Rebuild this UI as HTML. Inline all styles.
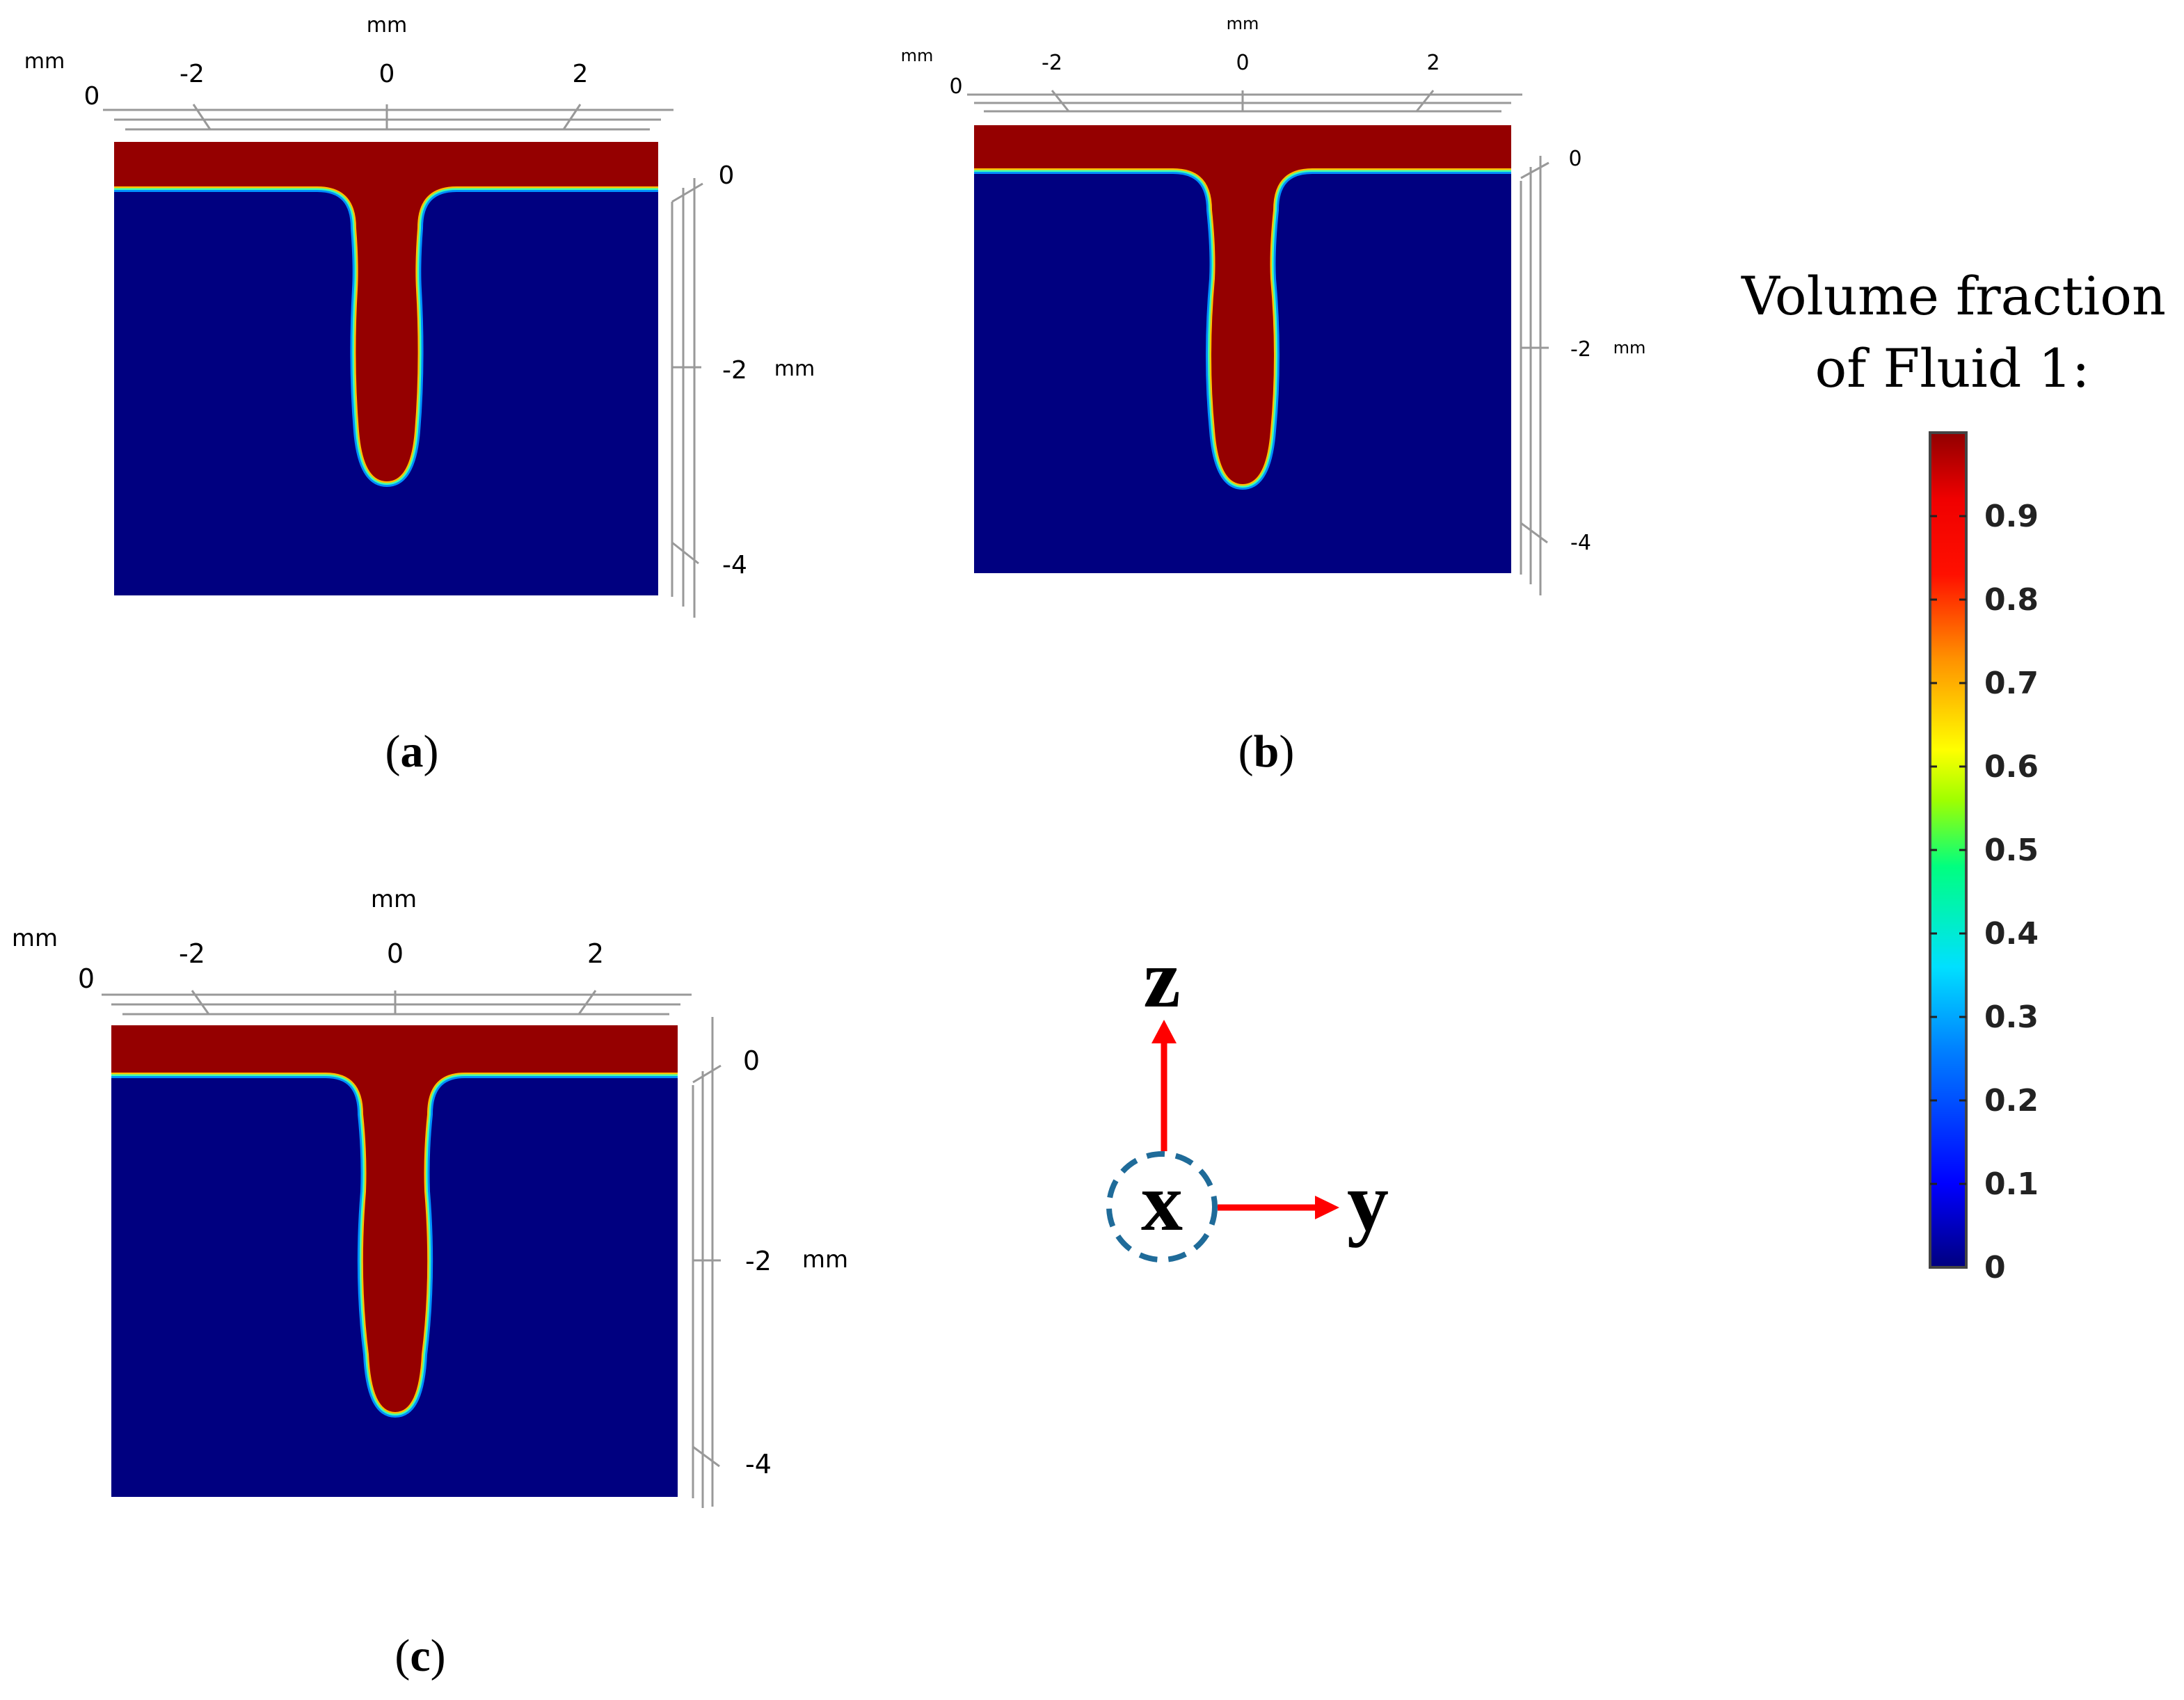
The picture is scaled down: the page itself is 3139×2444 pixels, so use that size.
<!DOCTYPE html>
<html><head><meta charset="utf-8"><style>html,body{margin:0;padding:0;background:#fff}svg{display:block}</style></head>
<body>
<svg width="3139" height="2444" viewBox="0 0 3139 2444" xmlns="http://www.w3.org/2000/svg">
<defs>
<linearGradient id="cb" gradientUnits="userSpaceOnUse" x1="0" y1="1822" x2="0" y2="622">
<stop offset="0" stop-color="#00007f"/><stop offset="0.1" stop-color="#0000ff"/><stop offset="0.26" stop-color="#0080ff"/><stop offset="0.36" stop-color="#00e0ff"/><stop offset="0.48" stop-color="#00ff80"/><stop offset="0.56" stop-color="#a0ff00"/><stop offset="0.62" stop-color="#ffff00"/><stop offset="0.73" stop-color="#ff9000"/><stop offset="0.83" stop-color="#ff1000"/><stop offset="0.92" stop-color="#f00000"/><stop offset="1" stop-color="#900000"/>
</linearGradient>
<path id="fa" d="M164,204 H946 V268 H656 Q600,268 600,328 Q596,380 598,416 Q604,522 596,620 Q590,692 556,692 Q522,692 516,620 Q508,522 514,416 Q516,380 512,328 Q512,268 456,268 H164 Z"/>
<path id="fb" d="M1400,180 H2172 V242 H1886 Q1830,242 1830,302 Q1824,360 1826,401 Q1836,514 1826,619 Q1820,696 1786,696 Q1752,696 1746,619 Q1736,514 1746,401 Q1748,360 1742,302 Q1742,242 1686,242 H1400 Z"/>
<path id="fc" d="M160,1474 H974 V1542 H668 Q614,1542 614,1602 Q608,1660 610,1713 Q620,1835 606,1947 Q602,2030 568,2030 Q534,2030 530,1947 Q516,1835 526,1713 Q528,1660 522,1602 Q522,1542 468,1542 H160 Z"/>
</defs>
<g font-family="DejaVu Sans, Liberation Sans, sans-serif" fill="#000">
<!-- Panel a -->
<rect x="164" y="204" width="782" height="652" fill="#000080"/>
<use href="#fa" fill="#950000" stroke="#0090ff" stroke-width="16"/>
<use href="#fa" fill="#950000" stroke="#40ffb0" stroke-width="10"/>
<use href="#fa" fill="#950000" stroke="#ffc000" stroke-width="5"/>
<use href="#fa" fill="#950000"/>
<rect x="150" y="190" width="810" height="14" fill="#fff"/>
<rect x="150" y="190" width="14" height="680" fill="#fff"/><rect x="946" y="190" width="14" height="680" fill="#fff"/><rect x="150" y="856" width="810" height="10" fill="#fff"/>
<g stroke="#999" stroke-width="3" fill="none">
<line x1="148" y1="158" x2="968" y2="158"/><line x1="164" y1="172" x2="950" y2="172"/><line x1="180" y1="186" x2="934" y2="186"/>
<line x1="278" y1="150" x2="302" y2="186"/><line x1="556" y1="150" x2="556" y2="186"/><line x1="834" y1="150" x2="810" y2="186"/>
<line x1="966" y1="290" x2="966" y2="858"/><line x1="982" y1="270" x2="982" y2="872"/><line x1="998" y1="256" x2="998" y2="888"/>
<line x1="966" y1="290" x2="1010" y2="264"/><line x1="966" y1="528" x2="1008" y2="528"/><line x1="966" y1="780" x2="1004" y2="810"/>
</g>
<text x="556" y="46" font-size="30" text-anchor="middle">mm</text>
<text x="64" y="98" font-size="30" text-anchor="middle">mm</text>
<text x="132" y="150" font-size="36" text-anchor="middle">0</text>
<text x="276" y="118" font-size="36" text-anchor="middle">-2</text>
<text x="556" y="118" font-size="36" text-anchor="middle">0</text>
<text x="834" y="118" font-size="36" text-anchor="middle">2</text>
<text x="1044" y="264" font-size="36" text-anchor="middle">0</text>
<text x="1056" y="544" font-size="36" text-anchor="middle">-2</text>
<text x="1142" y="540" font-size="30" text-anchor="middle">mm</text>
<text x="1056" y="824" font-size="36" text-anchor="middle">-4</text>
<text x="592" y="1102" font-size="66" text-anchor="middle" font-family="Liberation Serif, serif">(<tspan font-weight="bold">a</tspan>)</text>

<!-- Panel b -->
<rect x="1400" y="180" width="772" height="644" fill="#000080"/>
<use href="#fb" fill="#950000" stroke="#0090ff" stroke-width="16"/>
<use href="#fb" fill="#950000" stroke="#40ffb0" stroke-width="10"/>
<use href="#fb" fill="#950000" stroke="#ffc000" stroke-width="5"/>
<use href="#fb" fill="#950000"/>
<rect x="1386" y="166" width="800" height="14" fill="#fff"/>
<rect x="1386" y="166" width="14" height="670" fill="#fff"/><rect x="2172" y="166" width="12" height="670" fill="#fff"/><rect x="1386" y="824" width="798" height="10" fill="#fff"/>
<g stroke="#999" stroke-width="3" fill="none">
<line x1="1390" y1="136" x2="2188" y2="136"/><line x1="1400" y1="148" x2="2172" y2="148"/><line x1="1414" y1="160" x2="2158" y2="160"/>
<line x1="1512" y1="130" x2="1536" y2="160"/><line x1="1786" y1="130" x2="1786" y2="160"/><line x1="2060" y1="130" x2="2036" y2="160"/>
<line x1="2186" y1="260" x2="2186" y2="826"/><line x1="2200" y1="240" x2="2200" y2="840"/><line x1="2214" y1="224" x2="2214" y2="856"/>
<line x1="2186" y1="256" x2="2226" y2="234"/><line x1="2186" y1="500" x2="2226" y2="500"/><line x1="2186" y1="752" x2="2224" y2="780"/>
</g>
<text x="1786" y="42" font-size="24" text-anchor="middle">mm</text>
<text x="1318" y="88" font-size="24" text-anchor="middle">mm</text>
<text x="1374" y="134" font-size="30" text-anchor="middle">0</text>
<text x="1512" y="100" font-size="30" text-anchor="middle">-2</text>
<text x="1786" y="100" font-size="30" text-anchor="middle">0</text>
<text x="2060" y="100" font-size="30" text-anchor="middle">2</text>
<text x="2264" y="238" font-size="30" text-anchor="middle">0</text>
<text x="2272" y="512" font-size="30" text-anchor="middle">-2</text>
<text x="2342" y="508" font-size="24" text-anchor="middle">mm</text>
<text x="2272" y="790" font-size="30" text-anchor="middle">-4</text>
<text x="1820" y="1102" font-size="66" text-anchor="middle" font-family="Liberation Serif, serif">(<tspan font-weight="bold">b</tspan>)</text>

<!-- Panel c -->
<rect x="160" y="1474" width="814" height="678" fill="#000080"/>
<use href="#fc" fill="#950000" stroke="#0090ff" stroke-width="16"/>
<use href="#fc" fill="#950000" stroke="#40ffb0" stroke-width="10"/>
<use href="#fc" fill="#950000" stroke="#ffc000" stroke-width="5"/>
<use href="#fc" fill="#950000"/>
<rect x="146" y="1462" width="842" height="12" fill="#fff"/>
<rect x="146" y="1462" width="14" height="700" fill="#fff"/><rect x="974" y="1462" width="12" height="700" fill="#fff"/><rect x="146" y="2152" width="840" height="10" fill="#fff"/>
<g stroke="#999" stroke-width="3" fill="none">
<line x1="146" y1="1430" x2="994" y2="1430"/><line x1="160" y1="1444" x2="978" y2="1444"/><line x1="176" y1="1458" x2="962" y2="1458"/>
<line x1="276" y1="1424" x2="300" y2="1458"/><line x1="568" y1="1424" x2="568" y2="1458"/><line x1="856" y1="1424" x2="832" y2="1458"/>
<line x1="996" y1="1560" x2="996" y2="2154"/><line x1="1010" y1="1540" x2="1010" y2="2168"/><line x1="1024" y1="1462" x2="1024" y2="2166"/>
<line x1="996" y1="1556" x2="1036" y2="1532"/><line x1="996" y1="1812" x2="1036" y2="1812"/><line x1="996" y1="2080" x2="1034" y2="2108"/>
</g>
<text x="566" y="1304" font-size="34" text-anchor="middle">mm</text>
<text x="50" y="1360" font-size="34" text-anchor="middle">mm</text>
<text x="124" y="1420" font-size="38" text-anchor="middle">0</text>
<text x="276" y="1384" font-size="38" text-anchor="middle">-2</text>
<text x="568" y="1384" font-size="38" text-anchor="middle">0</text>
<text x="856" y="1384" font-size="38" text-anchor="middle">2</text>
<text x="1080" y="1538" font-size="38" text-anchor="middle">0</text>
<text x="1090" y="1826" font-size="38" text-anchor="middle">-2</text>
<text x="1186" y="1822" font-size="34" text-anchor="middle">mm</text>
<text x="1090" y="2118" font-size="38" text-anchor="middle">-4</text>
<text x="604" y="2402" font-size="66" text-anchor="middle" font-family="Liberation Serif, serif">(<tspan font-weight="bold">c</tspan>)</text>

<!-- Axes icon -->
<circle cx="1670" cy="1735" r="76" fill="none" stroke="#1f6b99" stroke-width="8" stroke-dasharray="26 16"/>
<line x1="1673" y1="1655" x2="1673" y2="1496" stroke="#ff0000" stroke-width="9"/>
<polygon points="1673,1466 1655,1500 1691,1500" fill="#ff0000"/>
<line x1="1750" y1="1736" x2="1895" y2="1736" stroke="#ff0000" stroke-width="9"/>
<polygon points="1925,1736 1890,1719 1890,1753" fill="#ff0000"/>
<text x="1670" y="1447" font-size="120" font-weight="bold" text-anchor="middle" font-family="Liberation Serif, serif">z</text>
<text x="1670" y="1768" font-size="120" font-weight="bold" text-anchor="middle" font-family="Liberation Serif, serif">x</text>
<text x="1966" y="1768" font-size="120" font-weight="bold" text-anchor="middle" font-family="Liberation Serif, serif">y</text>

<!-- Colorbar -->
<text x="2808" y="452" font-size="76" text-anchor="middle" font-family="DejaVu Serif, Liberation Serif, serif">Volume fraction</text>
<text x="2806" y="556" font-size="76" text-anchor="middle" font-family="DejaVu Serif, Liberation Serif, serif">of Fluid 1:</text>
<rect x="2774" y="622" width="52" height="1200" fill="url(#cb)" stroke="#444" stroke-width="4"/>
<g stroke="#222" stroke-width="3">
<line x1="2774" y1="742" x2="2784" y2="742"/><line x1="2816" y1="742" x2="2826" y2="742"/>
<line x1="2774" y1="862" x2="2784" y2="862"/><line x1="2816" y1="862" x2="2826" y2="862"/>
<line x1="2774" y1="982" x2="2784" y2="982"/><line x1="2816" y1="982" x2="2826" y2="982"/>
<line x1="2774" y1="1102" x2="2784" y2="1102"/><line x1="2816" y1="1102" x2="2826" y2="1102"/>
<line x1="2774" y1="1222" x2="2784" y2="1222"/><line x1="2816" y1="1222" x2="2826" y2="1222"/>
<line x1="2774" y1="1342" x2="2784" y2="1342"/><line x1="2816" y1="1342" x2="2826" y2="1342"/>
<line x1="2774" y1="1462" x2="2784" y2="1462"/><line x1="2816" y1="1462" x2="2826" y2="1462"/>
<line x1="2774" y1="1582" x2="2784" y2="1582"/><line x1="2816" y1="1582" x2="2826" y2="1582"/>
<line x1="2774" y1="1702" x2="2784" y2="1702"/><line x1="2816" y1="1702" x2="2826" y2="1702"/>
</g>
<g font-size="44" font-weight="bold" fill="#222">
<text x="2852" y="757">0.9</text><text x="2852" y="877">0.8</text><text x="2852" y="997">0.7</text><text x="2852" y="1117">0.6</text><text x="2852" y="1237">0.5</text><text x="2852" y="1357">0.4</text><text x="2852" y="1477">0.3</text><text x="2852" y="1597">0.2</text><text x="2852" y="1717">0.1</text><text x="2852" y="1837">0</text>
</g>
</g>
</svg>
</body></html>
